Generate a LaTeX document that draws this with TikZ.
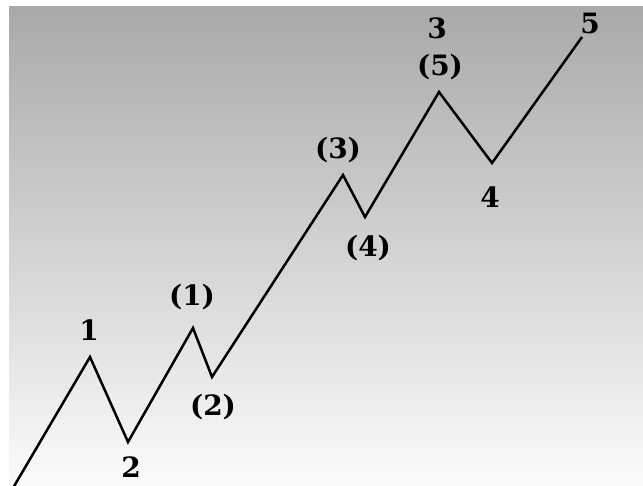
\documentclass[tikz,border=0pt]{standalone}
\usepackage{fontspec}
\setmainfont{DejaVu Serif}
\usetikzlibrary{positioning}
\usetikzlibrary{calc}
\definecolor{skytop}{HTML}{A9A9A9}
\definecolor{skybottom}{HTML}{FBFBFB}

\begin{document}
\begin{tikzpicture}[x=1pt, y=1pt, wlabel/.style={inner sep=0pt, font=\fontsize{28}{32}\selectfont\bfseries}, wave/.style={line width=2.5pt, black}]
			\useasboundingbox (0,0) rectangle (643,485);
			\fill[white] (0,0) rectangle (643,485);
			\shade[top color=skytop, bottom color=skybottom] (9,0) rectangle (643,478);
			\coordinate (s0) at (13,-3);
			\coordinate (p1) at (90,128);
			\coordinate (p2) at (128,43);
			\coordinate (m1) at (193,157);
			\coordinate (m2) at (212,108);
			\coordinate (m3) at (343,310);
			\coordinate (m4) at (365,268);
			\coordinate (p3) at (439,393);
			\coordinate (p4) at (492,322);
			\coordinate (p5) at (582,448);
			\begin{scope}
				\clip (0,0) rectangle (643,485);
				\draw[wave] (s0) -- (p1) -- (p2) -- (m1) -- (m2) -- (m3) -- (m4) -- (p3) -- (p4) -- (p5);
			\end{scope}
			\node[wlabel] (l1) at (89,155) {1};
			\node[wlabel] (l2) at (131,18) {2};
			\node[wlabel] (k1) at (192,188) {(1)};
			\node[wlabel] (k2) at (213,78) {(2)};
			\node[wlabel] (k3) at (338,335) {(3)};
			\node[wlabel] (k4) at (368,237) {(4)};
			\node[wlabel] (k5) at (440,418) {(5)};
			\node[wlabel] (l3) at (437,457) {3};
			\node[wlabel] (l4) at (490,288) {4};
			\node[wlabel] (l5) at (590,462) {5};
		\end{tikzpicture}
\end{document}
